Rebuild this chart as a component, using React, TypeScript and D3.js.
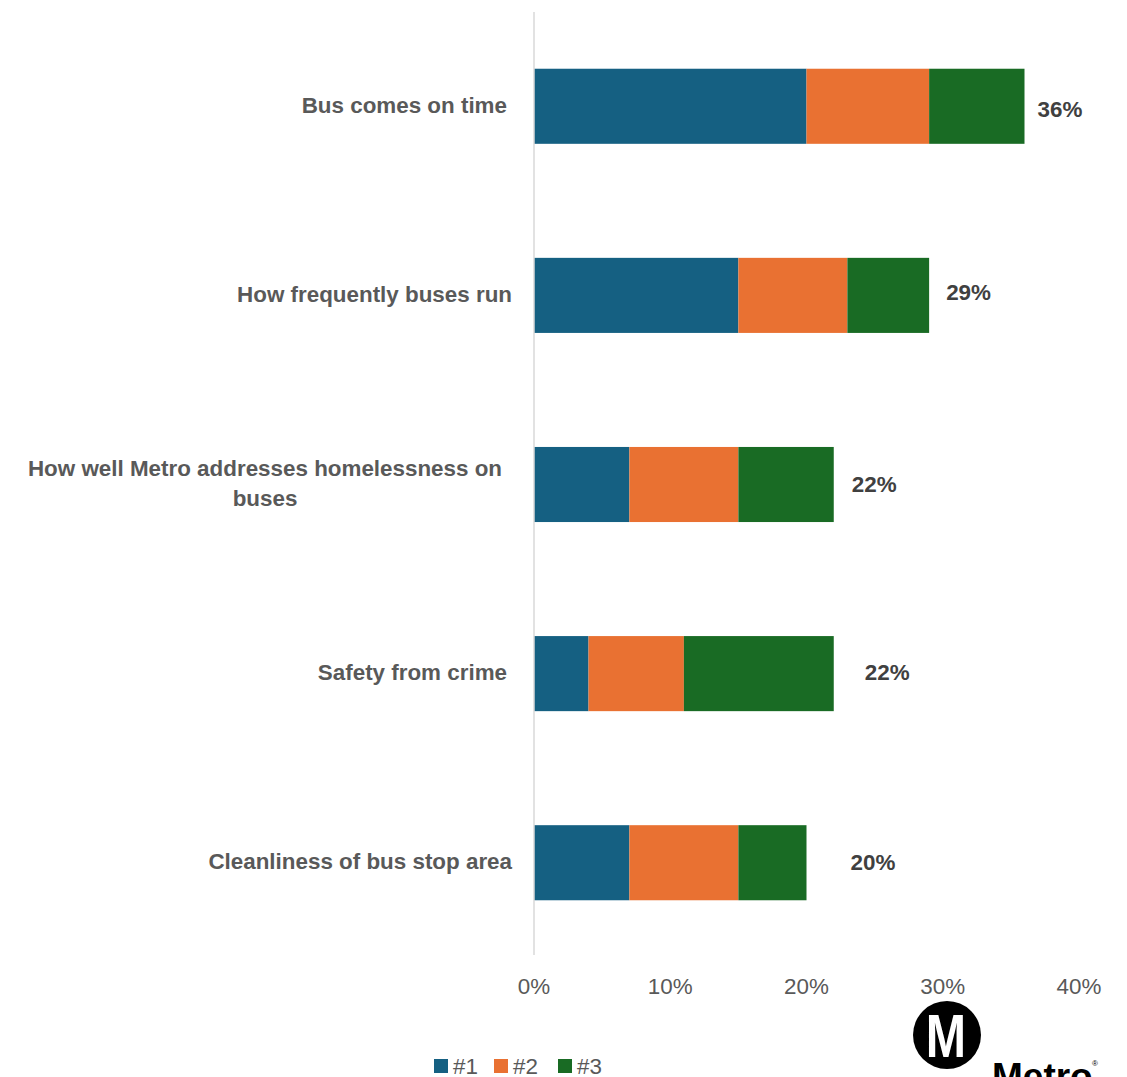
import React from "react";
import * as d3 from "d3";

const categories = [
  "Bus comes on time",
  "How frequently buses run",
  "How well Metro addresses homelessness on buses",
  "Safety from crime",
  "Cleanliness of bus stop area",
];
const seriesNames = ["#1", "#2", "#3"];
const rank1 = [20, 15, 7, 4, 7];
const rank2 = [9, 8, 8, 7, 8];
const rank3 = [7, 6, 7, 11, 5];
const totals = [36, 29, 22, 22, 20];
const xTicks = [0, 10, 20, 30, 40];
const colors = ["#156082", "#E97132", "#196B24"];
// manual nudges of the total labels, as placed in the original
const labelNudgeX = [13, 17, 18, 31, 44];
const labelNudgeY = [3, -3, 0, -1, -1];
const categoryLines = [
  ["Bus comes on time"],
  ["How frequently buses run"],
  ["How well Metro addresses homelessness on", "buses"],
  ["Safety from crime"],
  ["Cleanliness of bus stop area"],
];
const categoryRight = [507, 512, 507, 507, 512];

const W = 1127;
const H = 1077;
const FONT = "'Liberation Sans', Arial, sans-serif";
const FS = 22.4;

export default function App() {
  const x = d3.scaleLinear().domain([0, 40]).range([534, 1079]);
  const y = d3.scaleBand().domain(categories).range([12, 957]).paddingInner(0.603).paddingOuter(0.3);

  const rows = categories.map((c, i) => ({ cat: c, "#1": rank1[i], "#2": rank2[i], "#3": rank3[i] }));
  const stacked = d3.stack<any>().keys(seriesNames)(rows);

  return (
    <svg width={W} height={H} style={{ position: "absolute", left: 0, top: 0, background: "#fff" }} fontFamily={FONT}>
      <rect width={W} height={H} fill="#fff" />
      {stacked.map((layer, si) => (
        <g key={si} fill={colors[si]}>
          {layer.map((d, i) => (
            <rect
              key={i}
              x={x(d[0])}
              y={y(categories[i])}
              width={x(d[1]) - x(d[0])}
              height={y.bandwidth()}
            />
          ))}
        </g>
      ))}
      <line x1={x(0)} x2={x(0)} y1={12} y2={955} stroke="#d9d9d9" strokeWidth={1.5} />
      {categories.map((c, i) => {
        const cy = (y(c) as number) + y.bandwidth() / 2;
        const lines = categoryLines[i];
        if (lines.length === 1) {
          return (
            <text key={i} x={categoryRight[i]} y={cy - 1.5} dy="0.35em" textAnchor="end" fontSize={FS} fontWeight="bold" fill="#595959">
              {lines[0]}
            </text>
          );
        }
        return (
          <g key={i}>
            {lines.map((l, li) => (
              <text key={li} x={265} y={cy - 1.5 + (li - 0.5) * 30} dy="0.35em" textAnchor="middle" fontSize={FS} fontWeight="bold" fill="#595959">
                {l}
              </text>
            ))}
          </g>
        );
      })}
      {totals.map((t, i) => (
        <text
          key={i}
          x={x(t) + labelNudgeX[i]}
          y={(y(categories[i]) as number) + y.bandwidth() / 2 + labelNudgeY[i]}
          dy="0.35em"
          fontSize={FS}
          fontWeight="bold"
          fill="#404040"
        >
          {t}%
        </text>
      ))}
      {xTicks.map((t) => (
        <text key={t} x={x(t)} y={986} dy="0.35em" textAnchor="middle" fontSize={FS} fill="#595959">
          {t}%
        </text>
      ))}
      <g>
        {seriesNames.map((s, i) => {
          const lx = [434, 494, 558][i];
          return (
            <g key={s}>
              <rect x={lx} y={1059} width={14} height={14} fill={colors[i]} />
              <text x={lx + 19} y={1066} dy="0.35em" fontSize={FS} fill="#595959">
                {s}
              </text>
            </g>
          );
        })}
      </g>
      <g>
        <circle cx={947} cy={1035} r={34} fill="#000" />
        <text
          x={0}
          y={0}
          fontSize={62}
          fontWeight="bold"
          fill="#fff"
          textAnchor="middle"
          transform="translate(946,1057) scale(0.78,1)"
        >
          M
        </text>
        <text x={992} y={1089} fontSize={37} fontWeight="bold" fill="#000">
          Metro
        </text>
        <text x={1092} y={1066} fontSize={8} fill="#000">®</text>
      </g>
    </svg>
  );
}
